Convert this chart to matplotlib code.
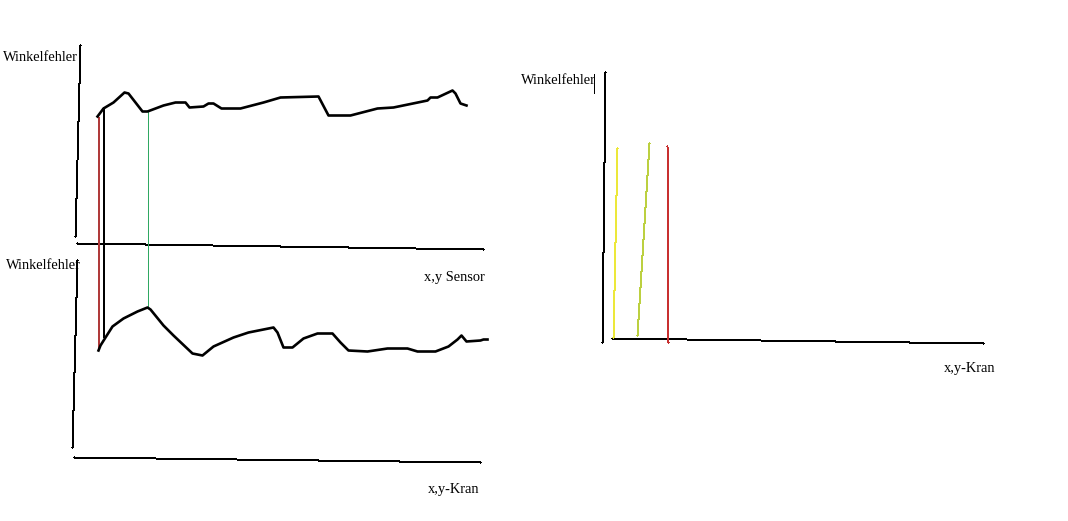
import numpy as np
import matplotlib
matplotlib.use("Agg")
from matplotlib import pyplot as plt

# sketch is in screen pixels (x right, y down)
top_curve_x = [97, 103, 113, 124, 128, 142, 147, 163, 175, 185, 189, 203, 208, 213, 221, 240,
               263, 280, 318, 328, 350, 377, 393, 427, 430, 437, 452, 455, 460, 466]
top_curve_y = [116, 108, 102, 92, 93, 111, 111, 105, 102, 102, 107, 106, 103, 103, 108, 108,
               102, 97, 96, 115, 115, 108, 107, 100, 97, 97, 90, 93, 103, 105]

low_curve_x = [98, 100, 105, 112, 123, 137, 147, 150, 163, 173, 192, 202, 213, 233, 248, 263,
               273, 277, 283, 292, 303, 317, 332, 340, 348, 367, 387, 407, 417, 435, 448, 457,
               461, 466, 480, 483, 487]
low_curve_y = [350, 345, 337, 326, 318, 311, 307, 309, 325, 335, 353, 355, 346, 337, 332, 329,
               327, 332, 347, 347, 338, 333, 333, 342, 350, 351, 348, 348, 351, 351, 346, 339,
               335, 341, 340, 339, 339]

# axes strokes: (x0, y0, x1, y1)
axis_lines = [
    (80, 45, 75, 236),     # top y axis
    (77, 243, 483, 249),   # top x axis
    (77, 260, 72, 447),    # lower y axis
    (74, 457, 480, 462),   # lower x axis
    (605, 72, 602, 342),   # right y axis
    (612, 338, 983, 343),  # right x axis
    (593, 73, 593, 92),    # stray stroke at label
]

# coloured marker lines: (x0, y0, x1, y1, colour)
marker_lines = [
    (98, 116, 99, 347, "#b03a3a"),
    (103, 108, 104, 337, "#000000"),
    (147, 111, 147, 307, "#2fa862"),
    (617, 148, 613, 337, "#ece83a"),
    (649, 143, 637, 335, "#bcd040"),
    (667, 146, 668, 342, "#c83030"),
]

labels = [
    (2, 57, "Winkelfehler"),
    (5, 265, "Winkelfehler"),
    (423, 277, "x,y Sensor"),
    (427, 489, "x,y-Kran"),
    (520, 80, "Winkelfehler"),
    (943, 368, "x,y-Kran"),
]

fig = plt.figure(figsize=(10.68, 5.21), dpi=100)
ax = fig.add_axes([0, 0, 1, 1])
# integer coordinates land on pixel centres
ax.set_xlim(-0.5, 1067.5)
ax.set_ylim(520.5, -0.5)
ax.axis("off")

# thin 1px pen strokes, drawn crisp like a paint program
for x0, y0, x1, y1 in axis_lines:
    ax.plot([x0, x1], [y0, y1], color="black", lw=0.72, antialiased=False)

for x0, y0, x1, y1, c in marker_lines:
    ax.plot([x0, x1], [y0, y1], color=c, lw=0.72, antialiased=False)

ax.plot(top_curve_x, top_curve_y, color="black", lw=1.9, solid_joinstyle="round")
ax.plot(low_curve_x, low_curve_y, color="black", lw=1.9, solid_joinstyle="round")

for x, y, s in labels:
    ax.text(x, y, s, fontsize=10.4, family="Liberation Serif", ha="left", va="center")

fig.savefig("out.png", dpi=100, facecolor="white")
